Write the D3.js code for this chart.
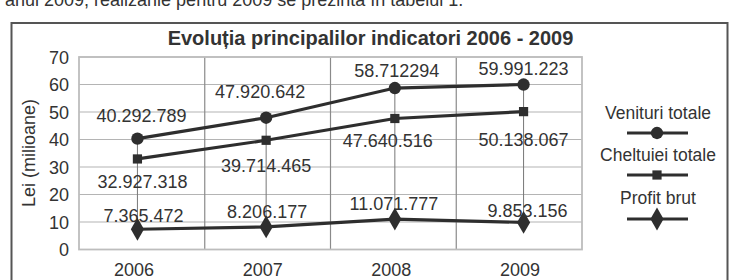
<!DOCTYPE html>
<html><head><meta charset="utf-8">
<script src="https://cdn.jsdelivr.net/npm/d3@7"></script>
<style>html,body{margin:0;padding:0;background:#fff;}svg{display:block;}</style>
</head><body>
<svg id="c" width="735" height="280"></svg>
<script>
// ---- data ----
const categories = ["2006", "2007", "2008", "2009"];
const seriesNames = ["Venituri totale", "Cheltuiei totale", "Profit brut"];
const venituri = [40.292789, 47.920642, 58.712294, 59.991223];
const cheltuieli = [32.927318, 39.714465, 47.640516, 50.138067];
const profit = [7.365472, 8.206177, 11.071777, 9.853156];
const venituriLabels = ["40.292.789", "47.920.642", "58.712294", "59.991.223"];
const cheltuieliLabels = ["32.927.318", "39.714.465", "47.640.516", "50.138.067"];
const profitLabels = ["7.365.472", "8.206.177", "11.071.777", "9.853.156"];
const yTicks = [0, 10, 20, 30, 40, 50, 60, 70];
const titleText = "Evoluția principalilor indicatori 2006 - 2009";
const yAxisTitle = "Lei (milioane)";
const topLine = "anul 2009, realizările pentru 2009 se prezintă în tabelul 1.";

// ---- layout (label offsets relative to each point) ----
const labelOffsets = [
  [[4, -17], [-6, -20], [2, -11], [0, -9.5]],
  [[5, 29], [0, 31.5], [-7, 28.5], [0, 34]],
  [[6, -7], [1, -9], [-1, -9], [4, -5.5]]
];
const shapes = [d3.symbolCircle, d3.symbolSquare, d3.symbolDiamond];
const shapeSizes = [120, 85, 150];

const svg = d3.select("#c");
const font = "'Liberation Sans', Arial, sans-serif";
const dark = "#2e2e2e";

const plot = {left: 79, right: 582, top: 57, bottom: 249.5};
const xBand = d3.scaleBand().domain(categories).range([plot.left, plot.right]);
const xPt = d3.scalePoint().domain(categories).range([plot.left, plot.right]).padding(0.454);
const y = d3.scaleLinear().domain([0, 70]).range([plot.bottom, plot.top]);

// top cut-off paragraph line (partly above the picture, as in the reference)
svg.append("text").attr("x", 5).attr("y", 6).attr("font-family", font).attr("font-size", 18)
  .attr("fill", "#333").text(topLine);

// outer chart border
svg.append("rect").attr("x", 11.5).attr("y", 23).attr("width", 716).attr("height", 280)
  .attr("fill", "#fff").attr("stroke", "#555").attr("stroke-width", 2);

// title
svg.append("text").attr("x", 370.5).attr("y", 45).attr("text-anchor", "middle")
  .attr("font-family", font).attr("font-size", 20).attr("font-weight", "bold").attr("fill", "#333")
  .text(titleText);

// horizontal gridlines
svg.append("g").selectAll("line").data(yTicks).join("line")
  .attr("x1", plot.left).attr("x2", plot.right)
  .attr("y1", d => y(d)).attr("y2", d => y(d))
  .attr("stroke", "#b4b4b4").attr("stroke-width", 1.2);

// vertical category boundaries
svg.append("g").selectAll("line").data(categories.slice(1)).join("line")
  .attr("x1", d => xBand(d)).attr("x2", d => xBand(d))
  .attr("y1", plot.top).attr("y2", plot.bottom)
  .attr("stroke", "#8a8a8a").attr("stroke-width", 1.2);

// plot border
svg.append("rect").attr("x", plot.left).attr("y", plot.top)
  .attr("width", plot.right - plot.left).attr("height", plot.bottom - plot.top)
  .attr("fill", "none").attr("stroke", "#bdbdbd").attr("stroke-width", 1.8);

// y tick labels
const yAxis = d3.axisLeft(y).tickValues(yTicks).tickSize(0).tickPadding(0);
const ga = svg.append("g").attr("transform", "translate(69,0)").call(yAxis);
ga.select(".domain").remove();
ga.selectAll("text").attr("font-family", font).attr("font-size", 18).attr("fill", "#333")
  .attr("dy", "0.36em");

// x tick labels
const xAxis = d3.axisBottom(xPt).tickSize(0).tickPadding(0);
const gx = svg.append("g").attr("transform", "translate(-4,262)").call(xAxis);
gx.select(".domain").remove();
gx.selectAll("text").attr("font-family", font).attr("font-size", 18).attr("fill", "#333")
  .attr("dy", "0.8em");

// y axis title
svg.append("text").attr("transform", "translate(35,153) rotate(-90)").attr("text-anchor", "middle")
  .attr("font-family", font).attr("font-size", 18).attr("fill", "#333").text(yAxisTitle);

// high-low lines
svg.append("g").selectAll("line").data(categories).join("line")
  .attr("x1", d => xPt(d)).attr("x2", d => xPt(d))
  .attr("y1", (d, i) => y(venituri[i])).attr("y2", (d, i) => y(profit[i]))
  .attr("stroke", "#777").attr("stroke-width", 1);

const allSeries = [venituri, cheltuieli, profit];
const allLabels = [venituriLabels, cheltuieliLabels, profitLabels];
const line = d3.line().x((d, i) => xPt(categories[i])).y(d => y(d));

allSeries.forEach((vals, s) => {
  svg.append("path").datum(vals).attr("d", line)
    .attr("fill", "none").attr("stroke", dark).attr("stroke-width", 3.2);
  svg.append("g").selectAll("path").data(vals).join("path")
    .attr("transform", (d, i) => `translate(${xPt(categories[i])},${y(d)})`)
    .attr("d", d3.symbol().type(shapes[s]).size(shapeSizes[s]))
    .attr("fill", dark);
  svg.append("g").selectAll("text").data(vals).join("text")
    .attr("x", (d, i) => xPt(categories[i]) + labelOffsets[s][i][0])
    .attr("y", (d, i) => y(d) + labelOffsets[s][i][1])
    .attr("text-anchor", "middle").attr("font-family", font).attr("font-size", 18)
    .attr("fill", "#333").text((d, i) => allLabels[s][i]);
});

// legend
const legTextY = [119, 161, 204];
const legLineY = [133, 175, 219];
seriesNames.forEach((name, s) => {
  svg.append("text").attr("x", 658).attr("y", legTextY[s]).attr("text-anchor", "middle")
    .attr("font-family", font).attr("font-size", 17.5).attr("fill", "#333").text(name);
  svg.append("line").attr("x1", 627).attr("x2", 688).attr("y1", legLineY[s]).attr("y2", legLineY[s])
    .attr("stroke", dark).attr("stroke-width", 3);
  svg.append("path").attr("transform", `translate(657,${legLineY[s]})`)
    .attr("d", d3.symbol().type(shapes[s]).size(shapeSizes[s])).attr("fill", dark);
});
</script>
</body></html>
